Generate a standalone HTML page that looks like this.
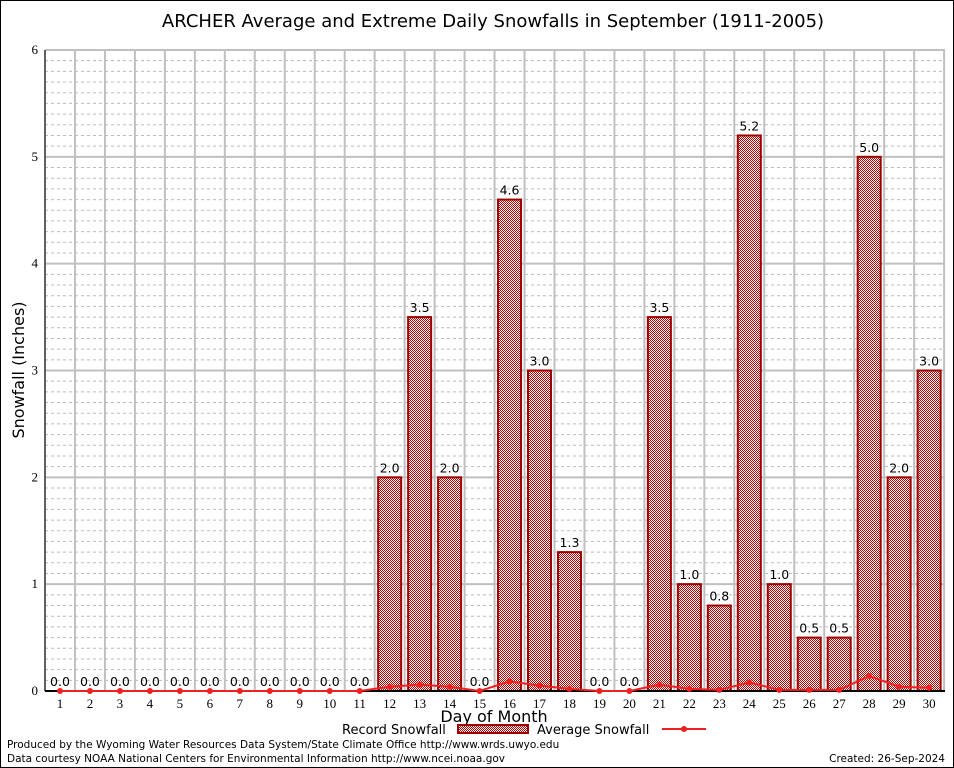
<!DOCTYPE html>
<html><head><meta charset="utf-8"><style>
body{margin:0;background:#fff}
svg{display:block}
text{font-family:"DejaVu Sans","Liberation Sans",sans-serif}
</style></head><body>
<svg id="s" width="954" height="768" xmlns="http://www.w3.org/2000/svg">
<defs>
<pattern id="h" width="2" height="2" patternUnits="userSpaceOnUse">
<rect width="2" height="2" fill="#fff"/><rect width="1" height="1" fill="#b00000"/><rect x="1" y="1" width="1" height="1" fill="#b00000"/>
</pattern>
</defs>
<rect x="0.5" y="0.5" width="953" height="767" fill="#fff" stroke="#000"/>
<g id="g"></g>
<text x="493" y="27" font-size="18" text-anchor="middle">ARCHER Average and Extreme Daily Snowfalls in September (1911-2005)</text>
<text x="24" y="370" font-size="16" text-anchor="middle" transform="rotate(-90 24 370)">Snowfall (Inches)</text>
<text x="494" y="722" font-size="16" text-anchor="middle">Day of Month</text>
<text x="342" y="734" font-size="13">Record Snowfall</text>
<rect x="458" y="725" width="70" height="8" fill="url(#h)" stroke="#a00000" stroke-width="2"/>
<text x="537" y="734" font-size="13">Average Snowfall</text>
<line x1="662" y1="729" x2="706" y2="729" stroke="#f02020" stroke-width="2"/>
<circle cx="684" cy="729" r="3" fill="#f02020"/>
<text x="7" y="748" font-size="10.5">Produced by the Wyoming Water Resources Data System/State Climate Office http://www.wrds.uwyo.edu</text>
<text x="7" y="762" font-size="10.5">Data courtesy NOAA National Centers for Environmental Information http://www.ncei.noaa.gov</text>
<text x="945" y="762" font-size="10.5" text-anchor="end">Created:  26-Sep-2024</text>
</svg>
<script>
var g=document.getElementById('g'),h='';
var L=45,R=945,T=50,B=691,u=(B-T)/6,w=29.97;
var SF='style="font-family:\'Liberation Serif\',serif"';
function Y(v){return B-v*u}
for(var i=1;i<60;i++){if(i%10==0)continue;var y=Y(i/10);h+='<line x1="'+L+'" x2="'+R+'" y1="'+y+'" y2="'+y+'" stroke="#bbb" stroke-dasharray="3,3"/>';}
for(var i=0;i<=30;i++){var x=L+i*w;h+='<line x1="'+x+'" x2="'+x+'" y1="'+T+'" y2="'+B+'" stroke="#c0c0c0" stroke-width="2"/>';}
for(var i=1;i<=6;i++){var y=Y(i);h+='<line x1="'+L+'" x2="'+R+'" y1="'+y+'" y2="'+y+'" stroke="#c0c0c0" stroke-width="2"/>';}
for(var i=0;i<=6;i++){h+='<text x="38" y="'+(Y(i)+4)+'" font-size="13" text-anchor="end" '+SF+'>'+i+'</text>';}
var rec=[0,0,0,0,0,0,0,0,0,0,0,2,3.5,2,0,4.6,3,1.3,0,0,3.5,1,0.8,5.2,1,0.5,0.5,5,2,3];
var avg=[0,0,0,0,0,0,0,0,0,0,0,0.04,0.06,0.04,0,0.09,0.05,0.02,0,0,0.06,0.02,0.01,0.08,0.01,0.01,0.01,0.14,0.04,0.03];
var pts=[];
for(var i=0;i<30;i++){var cx=L+(i+0.5)*w;
 if(rec[i]>0){var y=Y(rec[i]);h+='<rect x="'+(cx-11.5)+'" y="'+y+'" width="23" height="'+(B-y)+'" fill="url(#h)" stroke="#a00000" stroke-width="2"/>';}
 h+='<text x="'+cx+'" y="'+(Y(rec[i])-5)+'" font-size="12.5" text-anchor="middle">'+rec[i].toFixed(1)+'</text>';
 h+='<text x="'+cx+'" y="'+(B+17)+'" font-size="13" text-anchor="middle" '+SF+'>'+(i+1)+'</text>';
 pts.push(cx+','+Y(avg[i]));}
h+='<line x1="'+L+'" x2="'+R+'" y1="'+B+'" y2="'+B+'" stroke="#000" stroke-width="2"/>';
h+='<line x1="'+L+'" x2="'+L+'" y1="'+T+'" y2="'+B+'" stroke="#000" stroke-width="1"/>';
h+='<polyline points="'+pts.join(' ')+'" fill="none" stroke="#f02020" stroke-width="2"/>';
for(var i=0;i<30;i++){var p=pts[i].split(',');h+='<circle cx="'+p[0]+'" cy="'+p[1]+'" r="3" fill="#f02020"/>';}
g.innerHTML=h;
</script>
</body></html>
